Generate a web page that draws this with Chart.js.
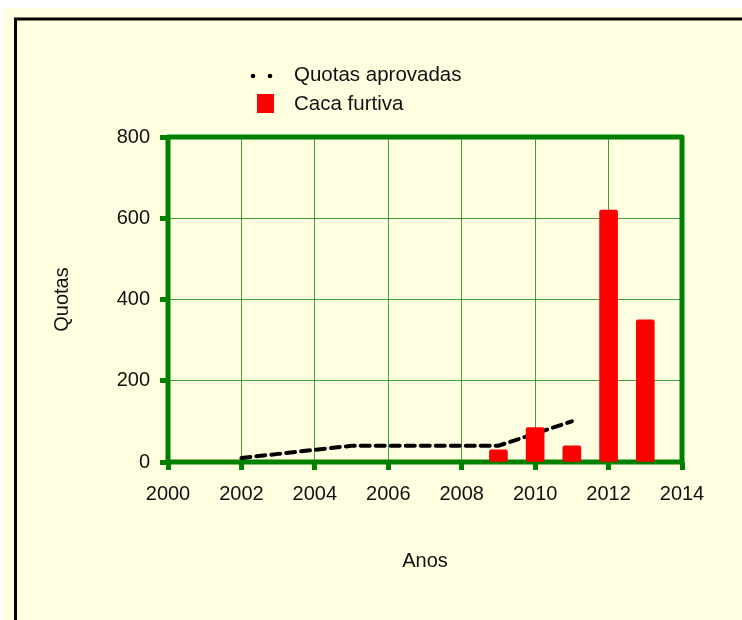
<!DOCTYPE html>
<html>
<head>
<meta charset="utf-8">
<script src="https://cdn.jsdelivr.net/npm/chart.js@4.4.1/dist/chart.umd.min.js"></script>
<style>
  html, body { margin: 0; padding: 0; background: #ffffff; }
  canvas { display: block; }
</style>
</head>
<body>
<canvas id="c" width="742" height="620"></canvas>
<script>
// ---- data ----
const lineYears = [2002, 2003, 2004, 2005, 2006, 2007, 2008, 2009, 2010, 2011];
const quotasAprovadas = [10, 20, 30, 40, 40, 40, 40, 40, 70, 100];
const barYears = [2009, 2010, 2011, 2012, 2013];
const cacaFurtiva = [30, 85, 40, 620, 350];
const xTickRange = [2000, 2014];   // x tick labels 2000..2014 step 2
const yTickRange = [0, 800];       // y tick labels 0..800 step 200
const seriesNames = ['Quotas aprovadas', 'Caca furtiva'];
const axisTitles = { x: 'Anos', y: 'Quotas' };

const FONT = "'Liberation Sans', Arial, sans-serif";
const GREEN = '#008000';
const YELLOW = '#FEFEE0';

const bgPlugin = {
  id: 'bg',
  beforeDraw(chart) {
    const ctx = chart.ctx;
    ctx.save();
    ctx.fillStyle = '#ffffff';
    ctx.fillRect(0, 0, chart.width, chart.height);
    ctx.fillStyle = YELLOW;
    ctx.fillRect(3, 8, chart.width, chart.height);
    ctx.strokeStyle = '#000000';
    ctx.lineWidth = 3;
    ctx.strokeRect(15.5, 19, chart.width + 20, chart.height + 20);
    ctx.restore();
  },
  beforeDatasetsDraw(chart) {
    const a = chart.chartArea;
    const ctx = chart.ctx;
    ctx.save();
    ctx.strokeStyle = GREEN;
    ctx.lineWidth = 5;
    ctx.lineJoin = 'round';
    ctx.strokeRect(a.left, a.top, a.right - a.left, a.bottom - a.top);
    ctx.restore();
  },
  afterDraw(chart) {
    const ctx = chart.ctx;
    ctx.save();
    // legend
    ctx.fillStyle = '#000000';
    ctx.beginPath(); ctx.arc(253, 76, 2.3, 0, Math.PI * 2); ctx.fill();
    ctx.beginPath(); ctx.arc(270, 76, 2.3, 0, Math.PI * 2); ctx.fill();
    ctx.fillStyle = '#FF0000';
    ctx.fillRect(257, 94, 17, 19);
    ctx.fillStyle = '#111111';
    ctx.font = '20.5px ' + FONT;
    ctx.textBaseline = 'middle';
    ctx.textAlign = 'left';
    ctx.fillText(seriesNames[0], 294, 75);
    ctx.fillText(seriesNames[1], 294, 104);
    ctx.restore();
  }
};

new Chart(document.getElementById('c'), {
  type: 'bar',
  data: {
    datasets: [
      {
        type: 'bar',
        label: seriesNames[1],
        data: barYears.map((x, i) => ({ x: x, y: cacaFurtiva[i] })),
        backgroundColor: '#FF0000',
        borderWidth: 0,
        borderRadius: 2,
        borderSkipped: false,
        barThickness: 18,
        order: 1
      },
      {
        type: 'line',
        label: seriesNames[0],
        data: lineYears.map((x, i) => ({ x: x, y: quotasAprovadas[i] })),
        borderColor: '#000000',
        borderWidth: 4,
        borderDash: [9, 6],
        borderCapStyle: 'round',
        pointRadius: 0,
        tension: 0,
        fill: false,
        order: 2
      }
    ]
  },
  options: {
    responsive: false,
    animation: false,
    devicePixelRatio: 1,
    layout: { padding: { left: 0, top: 137, right: 60, bottom: 0 } },
    plugins: { legend: { display: false }, tooltip: { enabled: false } },
    scales: {
      x: {
        type: 'linear',
        min: xTickRange[0],
        max: xTickRange[1],
        offset: false,
        afterFit(s) { s.height = 158; },
        ticks: { stepSize: 2, padding: 12, color: '#111111', font: { family: FONT, size: 20 }, callback: v => String(v), maxRotation: 0 },
        grid: { offset: false, color: 'rgba(0,128,0,0.75)', lineWidth: 1, tickColor: GREEN, tickWidth: 5, tickLength: 8 },
        border: { display: false },
        title: { display: true, text: axisTitles.x, color: '#111111', font: { family: FONT, size: 20 }, padding: { top: 0, bottom: 47 } }
      },
      y: {
        type: 'linear',
        min: yTickRange[0],
        max: yTickRange[1],
        afterFit(s) { s.width = 168; },
        ticks: { stepSize: 200, padding: 10, color: '#111111', font: { family: FONT, size: 20 } },
        grid: { color: 'rgba(0,128,0,0.75)', lineWidth: 1, tickColor: GREEN, tickWidth: 5, tickLength: 8 },
        border: { display: false },
        title: { display: true, text: axisTitles.y, color: '#111111', font: { family: FONT, size: 20 }, padding: { top: 50, bottom: 0 } }
      }
    }
  },
  plugins: [bgPlugin]
});
</script>
</body>
</html>
